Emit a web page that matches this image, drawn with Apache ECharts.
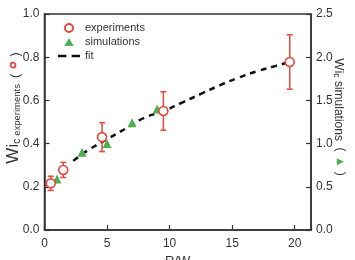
<!DOCTYPE html>
<html>
<head>
<meta charset="utf-8">
<script src="https://cdn.jsdelivr.net/npm/echarts@6/dist/echarts.min.js"></script>
<style>
  html, body { margin: 0; padding: 0; background: #fff; }
  #main { width: 355px; height: 260px; }
</style>
</head>
<body>
<div id="main"></div>
<script>
// experiments (left axis), with error half-widths
const expX = [0.5, 1.5, 4.6, 9.5, 19.6];
const expY = [0.216, 0.278, 0.43, 0.551, 0.778];
const expErr = [0.033, 0.035, 0.067, 0.089, 0.126];

// simulations (right axis units)
const simX = [1, 3, 5, 7, 9];
const simY = [0.59, 0.9, 1.0, 1.24, 1.4];

// fit curve (left axis units)
const fitX = [2.3, 3.5, 5, 6.5, 8, 9.5, 11, 12.5, 14, 15.5, 17, 18.5, 19.6];
const fitY = [0.32, 0.37, 0.42, 0.47, 0.52, 0.55, 0.59, 0.63, 0.67, 0.705, 0.735, 0.76, 0.778];

const RED = '#e8473c';
const GREEN = '#4caf50';
const INK = '#333';
const FONT = '"Liberation Sans", Arial, sans-serif';

const chart = echarts.init(document.getElementById('main'));

const axisCommon = {
    axisLine: { show: true, onZero: false, lineStyle: { color: INK, width: 1.5 } },
    axisTick: { show: true, inside: true, length: 5, lineStyle: { color: INK, width: 1.2 } },
    splitLine: { show: false },
    axisLabel: { color: INK, fontSize: 12, fontFamily: FONT, margin: 5 }
};

const option = {
    backgroundColor: '#fff',
    animation: false,
    grid: {
        left: 44.5, right: 44, top: 14, bottom: 30,
        outerBoundsMode: 'none',
        show: true, borderColor: INK, borderWidth: 1.5
    },
    legend: {
        orient: 'vertical',
        left: 58,
        top: 22,
        padding: 0,
        itemWidth: 22,
        itemHeight: 8,
        itemGap: 2,
        data: [
            { name: 'experiments', icon: 'circle' },
            { name: 'simulations', icon: 'path://M5,0 L10,8.6 L0,8.6 Z' },
            {
                name: 'fit',
                icon: 'path://M0,0 h8 v2.5 h-8 z M13,0 h8 v2.5 h-8 z',
                itemStyle: { color: '#111', borderWidth: 0, borderColor: 'transparent' }
            }
        ],
        textStyle: { color: INK, fontSize: 11, fontFamily: FONT, lineHeight: 12 }
    },
    xAxis: {
        type: 'value',
        min: 0,
        max: 21.3,
        interval: 5,
        name: 'R/W',
        nameLocation: 'middle',
        nameGap: 22,
        nameTextStyle: { color: INK, fontSize: 13, fontFamily: FONT },
        ...axisCommon,
        axisLabel: {
            ...axisCommon.axisLabel,
            margin: 8,
            formatter: v => (v % 5 === 0 ? String(v) : '')
        }
    },
    yAxis: [
        {
            type: 'value', min: 0, max: 1, interval: 0.2, position: 'left',
            ...axisCommon,
            axisLabel: { ...axisCommon.axisLabel, formatter: v => v.toFixed(1) }
        },
        {
            type: 'value', min: 0, max: 2.5, interval: 0.5, position: 'right',
            ...axisCommon,
            axisLabel: { ...axisCommon.axisLabel, formatter: v => v.toFixed(1) }
        }
    ],
    graphic: [
        {
            type: 'text', x: 13, y: 108, rotation: Math.PI / 2,
            style: {
                text: '{w|Wi}{c|c} {e|experiments}  {p|(}  {o| }  {p|)}',
                align: 'center', verticalAlign: 'middle',
                fill: INK, fontFamily: FONT, fontSize: 11,
                rich: {
                    w: { fontSize: 17, lineHeight: 18, verticalAlign: 'bottom', fontFamily: FONT, fill: INK },
                    c: { fontSize: 10, lineHeight: 4, verticalAlign: 'bottom', fontFamily: FONT, fill: INK },
                    e: { fontSize: 9.5, lineHeight: 13, verticalAlign: 'bottom', fontFamily: FONT, fill: INK },
                    p: { fontSize: 12.5, lineHeight: 15, verticalAlign: 'bottom', fontFamily: FONT, fill: INK },
                    o: { width: 5, height: 5, lineHeight: 5, borderRadius: 5, borderWidth: 1.7, borderColor: RED, verticalAlign: 'middle' }
                }
            }
        },
        {
            type: 'text', x: 340, y: 117, rotation: -Math.PI / 2,
            style: {
                text: '{w|Wi}{c|c} {e|simulations}  (  {t|▲}  )',
                align: 'center', verticalAlign: 'middle',
                fill: INK, fontFamily: FONT, fontSize: 12,
                rich: {
                    w: { fontSize: 13, lineHeight: 16, verticalAlign: 'bottom', fontFamily: FONT, fill: INK },
                    c: { fontSize: 8.5, lineHeight: 4, verticalAlign: 'bottom', fontFamily: FONT, fill: INK },
                    e: { fontSize: 12, lineHeight: 15, verticalAlign: 'bottom', fontFamily: FONT, fill: INK },
                    t: { fontSize: 9, lineHeight: 13, verticalAlign: 'middle', fontFamily: '"DejaVu Sans"', fill: GREEN }
                }
            }
        }
    ],
    series: [
        {
            name: 'fit',
            type: 'line',
            smooth: true,
            symbol: 'none',
            data: fitX.map((x, i) => [x, fitY[i]]),
            lineStyle: { color: '#111', width: 2.5, type: [6, 5] },
            itemStyle: { color: '#111' },
            z: 2
        },
        {
            name: 'errors',
            type: 'custom',
            data: expX.map((x, i) => [x, expY[i] - expErr[i], expY[i] + expErr[i]]),
            renderItem: (params, api) => {
                const lo = api.coord([api.value(0), api.value(1)]);
                const hi = api.coord([api.value(0), api.value(2)]);
                const cap = 3;
                const st = { stroke: RED, lineWidth: 1.5 };
                return {
                    type: 'group',
                    children: [
                        { type: 'line', shape: { x1: lo[0], y1: lo[1], x2: hi[0], y2: hi[1] }, style: st },
                        { type: 'line', shape: { x1: lo[0] - cap, y1: lo[1], x2: lo[0] + cap, y2: lo[1] }, style: st },
                        { type: 'line', shape: { x1: hi[0] - cap, y1: hi[1], x2: hi[0] + cap, y2: hi[1] }, style: st }
                    ]
                };
            },
            z: 3
        },
        {
            name: 'simulations',
            type: 'scatter',
            yAxisIndex: 1,
            symbol: 'triangle',
            symbolSize: 9,
            data: simX.map((x, i) => [x, simY[i]]),
            itemStyle: { color: GREEN, opacity: 1 },
            z: 4
        },
        {
            name: 'experiments',
            type: 'scatter',
            symbol: 'circle',
            symbolSize: 9,
            data: expX.map((x, i) => [x, expY[i]]),
            itemStyle: { color: '#fff', borderColor: RED, borderWidth: 1.6, opacity: 1 },
            z: 5
        }
    ]
};

chart.setOption(option);
</script>
</body>
</html>
